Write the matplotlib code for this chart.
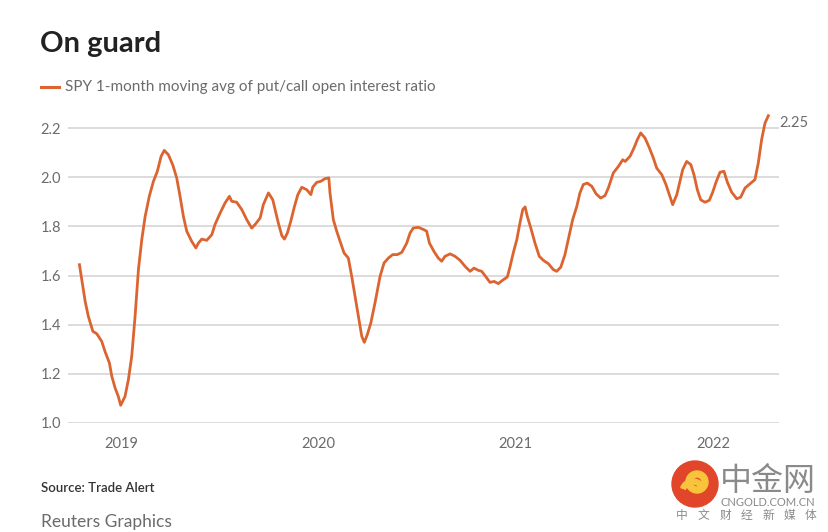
import matplotlib
matplotlib.use("Agg")
import matplotlib.pyplot as plt
from matplotlib.patches import Circle, Wedge

# ---- data (decimal years, put/call ratio) ----
years = [2018.789, 2018.818, 2018.834, 2018.857, 2018.877, 2018.902, 2018.919, 2018.941,
         2018.953, 2018.970, 2018.986, 2018.998, 2019.020, 2019.037, 2019.054, 2019.071,
         2019.088, 2019.105, 2019.122, 2019.143, 2019.164, 2019.184, 2019.203, 2019.219,
         2019.240, 2019.262, 2019.282, 2019.299, 2019.316, 2019.333, 2019.358, 2019.379,
         2019.392, 2019.409, 2019.434, 2019.460, 2019.476, 2019.502, 2019.527, 2019.549,
         2019.561, 2019.586, 2019.612, 2019.637, 2019.662, 2019.679, 2019.705, 2019.721,
         2019.747, 2019.769, 2019.781, 2019.797, 2019.815, 2019.828, 2019.843, 2019.860,
         2019.877, 2019.896, 2019.916, 2019.941, 2019.962, 2019.972, 2019.992, 2020.012,
         2020.034, 2020.053, 2020.059, 2020.076, 2020.093, 2020.110, 2020.130, 2020.152,
         2020.169, 2020.186, 2020.203, 2020.220, 2020.233, 2020.248, 2020.266, 2020.287,
         2020.313, 2020.333, 2020.355, 2020.377, 2020.400, 2020.423, 2020.448, 2020.465,
         2020.481, 2020.507, 2020.536, 2020.549, 2020.563, 2020.586, 2020.608, 2020.625,
         2020.642, 2020.668, 2020.693, 2020.718, 2020.744, 2020.769, 2020.789, 2020.811,
         2020.828, 2020.850, 2020.870, 2020.891, 2020.912, 2020.938, 2020.958, 2020.972,
         2020.988, 2021.006, 2021.022, 2021.036, 2021.048, 2021.059, 2021.077, 2021.098,
         2021.120, 2021.140, 2021.166, 2021.191, 2021.208, 2021.229, 2021.250, 2021.267,
         2021.289, 2021.310, 2021.326, 2021.343, 2021.363, 2021.386, 2021.408, 2021.431,
         2021.453, 2021.470, 2021.495, 2021.521, 2021.543, 2021.555, 2021.580, 2021.600,
         2021.617, 2021.634, 2021.656, 2021.678, 2021.698, 2021.715, 2021.741, 2021.762,
         2021.779, 2021.796, 2021.817, 2021.833, 2021.847, 2021.867, 2021.888, 2021.904,
         2021.921, 2021.938, 2021.960, 2021.982, 2021.999, 2022.016, 2022.036, 2022.056,
         2022.073, 2022.095, 2022.121, 2022.141, 2022.163, 2022.188, 2022.213, 2022.230,
         2022.247, 2022.264, 2022.281]
ratio = [1.644, 1.495, 1.434, 1.373, 1.363, 1.332, 1.290, 1.244,
         1.190, 1.142, 1.108, 1.072, 1.108, 1.176, 1.271, 1.434,
         1.624, 1.746, 1.840, 1.922, 1.983, 2.024, 2.085, 2.109,
         2.091, 2.050, 1.997, 1.922, 1.840, 1.780, 1.739, 1.712,
         1.732, 1.748, 1.743, 1.766, 1.807, 1.854, 1.895, 1.922,
         1.902, 1.898, 1.868, 1.827, 1.793, 1.807, 1.834, 1.888,
         1.936, 1.908, 1.868, 1.814, 1.762, 1.748, 1.773, 1.820,
         1.875, 1.929, 1.959, 1.949, 1.929, 1.960, 1.979, 1.983,
         1.994, 1.997, 1.936, 1.827, 1.780, 1.739, 1.692, 1.671,
         1.597, 1.515, 1.434, 1.353, 1.328, 1.359, 1.407, 1.488,
         1.597, 1.651, 1.671, 1.685, 1.685, 1.694, 1.732, 1.773,
         1.793, 1.796, 1.786, 1.780, 1.732, 1.698, 1.671, 1.658,
         1.678, 1.688, 1.678, 1.662, 1.637, 1.617, 1.630, 1.621,
         1.617, 1.594, 1.572, 1.576, 1.567, 1.583, 1.594, 1.637,
         1.692, 1.746, 1.814, 1.868, 1.879, 1.841, 1.793, 1.732,
         1.678, 1.662, 1.648, 1.624, 1.617, 1.634, 1.685, 1.746,
         1.827, 1.881, 1.936, 1.970, 1.976, 1.963, 1.932, 1.915,
         1.925, 1.956, 2.017, 2.044, 2.071, 2.064, 2.085, 2.119,
         2.153, 2.180, 2.159, 2.119, 2.078, 2.037, 2.010, 1.970,
         1.929, 1.888, 1.929, 1.983, 2.031, 2.064, 2.051, 2.010,
         1.949, 1.908, 1.898, 1.906, 1.939, 1.980, 2.020, 2.024,
         1.980, 1.939, 1.912, 1.919, 1.956, 1.973, 1.990, 2.058,
         2.153, 2.220, 2.250]

y_ticks = [1.0, 1.2, 1.4, 1.6, 1.8, 2.0, 2.2]
x_ticks = [2019, 2020, 2021, 2022]
x_labels = ["2019", "2020", "2021", "2022"]

title = "On guard"
series_label = "SPY 1-month moving avg of put/call open interest ratio"
source = "Source: Trade Alert"
credit = "Reuters Graphics"

LINE = "#dc6430"
GRID = "#d9d9d9"
GRAY = "#6b6b6b"
FONT = ["Lato", "DejaVu Sans"]
CJK = ["Noto Sans CJK SC", "DejaVu Sans"]

W, H = 829, 532
fig = plt.figure(figsize=(W / 100, H / 100), dpi=100)
fig.patch.set_facecolor("white")

def fx(px):
    return px / W

def fy(py):
    return 1 - py / H

ymin, ymax = 1.0, 2.28
ppu = 295 / 1.2
top_px = 423 - (ymax - ymin) * ppu
ax = fig.add_axes([fx(68), fy(423), fx(779) - fx(68), fy(top_px) - fy(423)])
ax.set_ylim(ymin, ymax)
ax.set_xlim(2018.731, 2022.335)

for s in ax.spines.values():
    s.set_visible(False)
ax.set_yticks(y_ticks)
ax.set_yticklabels([f"{v:.1f}" for v in y_ticks])
ax.set_xticks(x_ticks)
ax.set_xticklabels(x_labels)
ax.tick_params(axis="both", length=0, labelsize=10.5, labelcolor=GRAY)
ax.tick_params(axis="y", pad=5)
ax.tick_params(axis="x", pad=10)
for lab in ax.get_xticklabels() + ax.get_yticklabels():
    lab.set_family(FONT)
ax.yaxis.grid(True, color=GRID, lw=1.3)
ax.set_axisbelow(True)

ax.plot(years, ratio, color=LINE, lw=2.0, solid_joinstyle="round", clip_on=False, zorder=3)
ax.annotate(f"{ratio[-1]:.2f}", xy=(years[-1], ratio[-1]), xytext=(8, -5),
            textcoords="offset points", ha="left", va="center",
            fontsize=10.5, color=GRAY, family=FONT, annotation_clip=False)

# title and legend
fig.text(fx(40), fy(44), title, fontsize=21, fontweight="bold", color="#222222",
         family=FONT, va="center", ha="left")
fig.add_artist(plt.Line2D([fx(41), fx(59)], [fy(87), fy(87)], color=LINE, lw=2.2))
fig.text(fx(65), fy(87), series_label, fontsize=11.0, color=GRAY, family=FONT,
         va="center", ha="left")

# footer
fig.text(fx(41), fy(488), source, fontsize=9.5, color="#333333", family=FONT,
         fontweight="semibold", va="center", ha="left")
fig.text(fx(41), fy(522), credit, fontsize=12.5, color=GRAY, family=FONT,
         va="center", ha="left")

# watermark
cx, cy, r = 695, 484, 23
wax = fig.add_axes([0, 0, 1, 1], facecolor="none")
wax.set_xlim(0, W)
wax.set_ylim(H, 0)
wax.axis("off")
wax.add_patch(Circle((cx, cy), r, color="#e2462a", zorder=1))
wax.add_patch(Wedge((cx + 2, cy - 2), 11, 0, 360, width=6, color="#f7c43c", zorder=2))
wax.add_patch(Wedge((cx - 2, cy + 8), 13, 200, 320, width=5, color="#f7c43c", zorder=2))
fig.text(fx(768), fy(481), "中金网", fontsize=23, color="#8a8a8a",
         family=CJK, va="center", ha="center")
fig.text(fx(815), fy(503), "CNGOLD.COM.CN", fontsize=8, color="#8a8a8a",
         family=FONT, va="center", ha="right")
wm_chars = ["中", "文", "财", "经", "新", "媒", "体"]
for i, ch in enumerate(wm_chars):
    fig.text(fx(682 + i * 21.5), fy(515), ch, fontsize=8.5, color="#8a8a8a",
             family=CJK, va="center", ha="center")

fig.savefig("out.png", dpi=100, facecolor="white")
